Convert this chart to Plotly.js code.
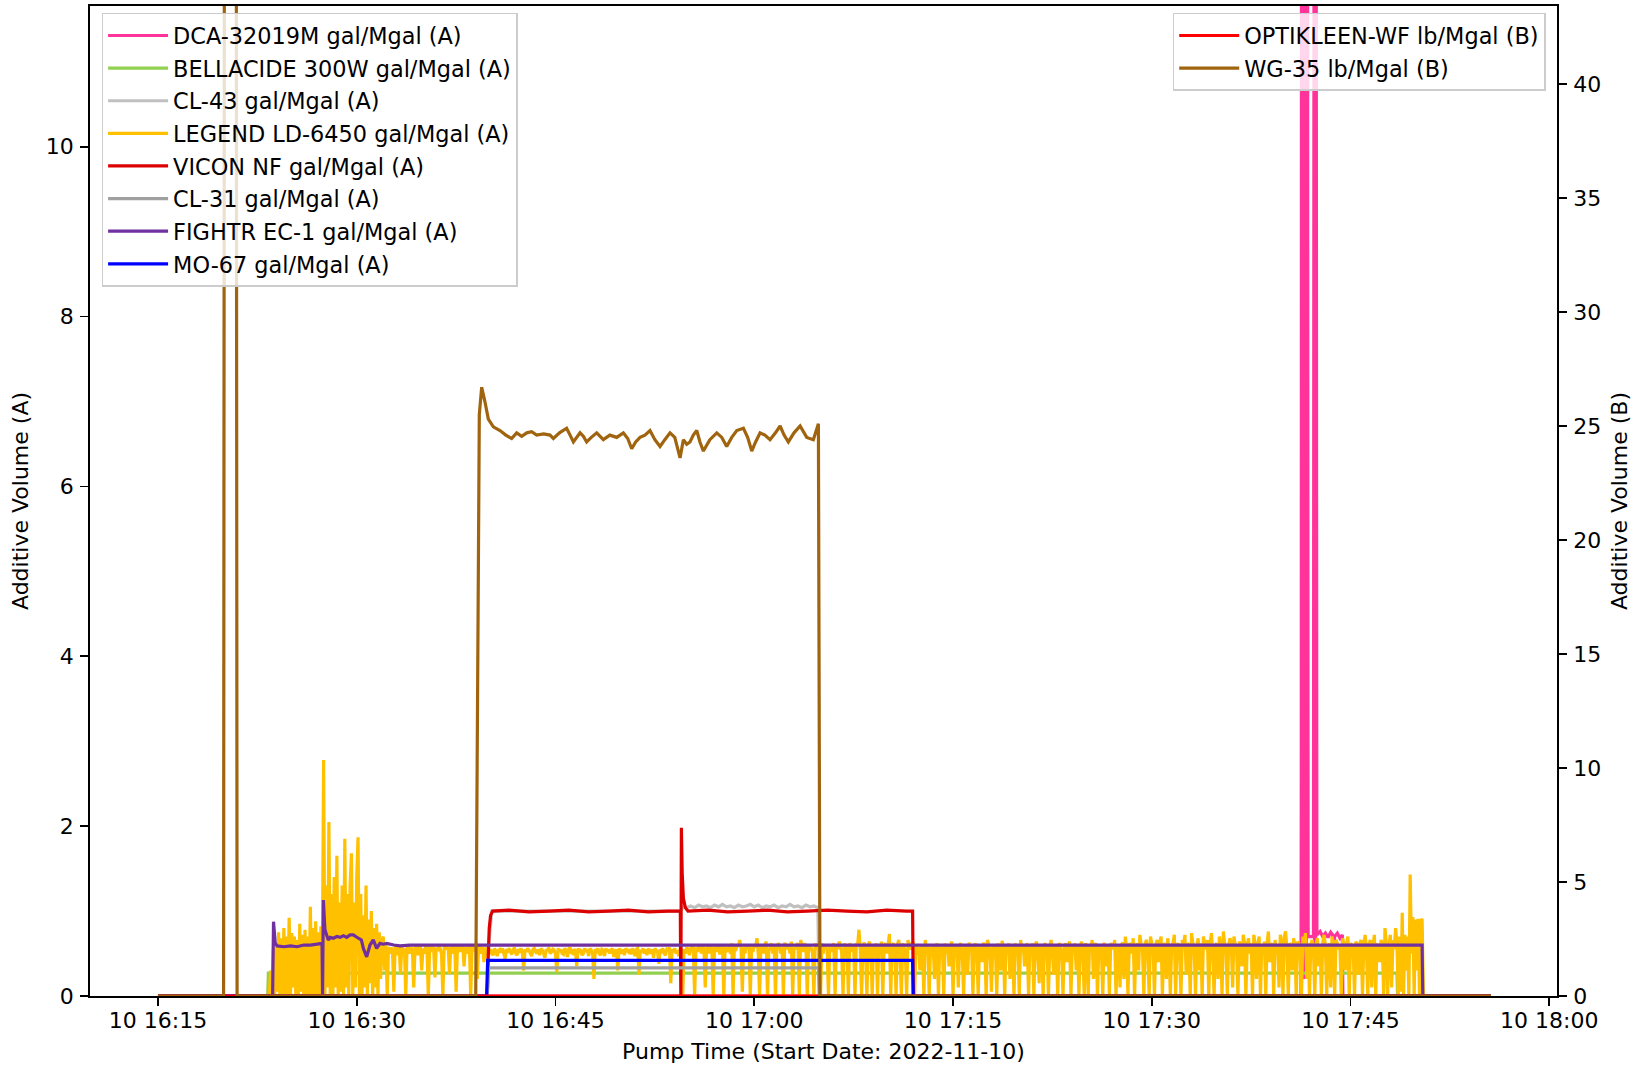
<!DOCTYPE html>
<html><head><meta charset="utf-8">
<script src="https://cdn.plot.ly/plotly-3.0.1.min.js"></script>
<style>html,body{margin:0;padding:0;background:#fff;}#chart{width:1642px;height:1067px;}</style>
</head><body><div id="chart"></div>
<script>
// Time values are minutes after 2022-11-10 16:15:00
const dcaMin = [0, 86.26, 86.28, 86.3, 86.34, 86.38, 86.42, 86.46, 86.5, 86.54, 86.58, 86.62, 86.66, 86.7, 86.75, 86.8,
  87.2, 87.25, 87.29, 87.33, 87.37, 87.4,
  87.46, 87.7, 87.9, 88.1, 88.3, 88.5, 88.65, 88.72, 88.8, 89.0, 89.2, 89.38, 89.42, 100.6];
const dcaVal = [0, 0, 2.2, 15, 0.3, 15, 0.5, 15, 0.2, 15, 0.6, 15, 0.4, 15, 15, 0.7,
  0.7, 15, 0.3, 15, 0.5, 15,
  0.72, 0.76, 0.7, 0.74, 0.69, 0.75, 0.72, 0.32, 0.7, 0.74, 0.68, 0.72, 0, 0];

const bellMin = [0, 8.28, 8.33, 93.5, 93.55, 100.6];
const bellVal = [0, 0, 0.27, 0.27, 0, 0];

const cl43Min = [0, 24.85, 24.95, 25.2, 39.45,
  39.6, 39.9, 40.2, 40.5, 40.8, 41.1, 41.4, 41.7, 42.0, 42.3,
  42.6, 42.9, 43.2, 43.5, 43.8, 44.1, 44.4, 44.7, 45.0, 45.3,
  45.6, 45.9, 46.2, 46.5, 46.8, 47.1, 47.4, 47.7, 48.0, 48.3,
  48.6, 48.9, 49.2, 49.5, 49.8, 49.9, 100.6];
const cl43Val = [0, 0, 0.6, 1.0, 1.0,
  1.05, 1.04, 1.06, 1.04, 1.07, 1.05, 1.06, 1.04, 1.07, 1.05,
  1.08, 1.05, 1.06, 1.04, 1.07, 1.05, 1.06, 1.08, 1.05, 1.07,
  1.04, 1.06, 1.05, 1.07, 1.04, 1.06, 1.05, 1.08, 1.05, 1.06,
  1.04, 1.07, 1.05, 1.06, 1.04, 0, 0];

// LEGEND LD-6450: samples every 6 s starting 16:23:24 (8.4 min)
const legendStartMin = 8.4;
const legendStepMin = 0.1;
const legendA = [ // 8.4 - 12.3
  0.0, 0.3, 0.0, 0.55, 0.0, 0.62, 0.05, 0.75, 0.0, 0.68,
  0.0, 0.8, 0.02, 0.7, 0.0, 0.92, 0.0, 0.74, 0.1, 0.7,
  0.0, 0.66, 0.0, 0.85, 0.05, 0.72, 0.0, 0.78, 0.0, 0.7,
  0.0, 1.05, 0.0, 0.8, 0.02, 0.88, 0.0, 0.75, 0.0, 0.82];
const legendB = [ // 12.4 - 16.9
  0.3, 2.78, 0.0, 1.3, 0.1, 2.05, 0.0, 1.2, 0.0, 1.4,
  0.1, 1.65, 0.0, 1.1, 0.05, 1.3, 0.0, 1.85, 0.1, 1.2,
  0.0, 1.3, 1.68, 0.0, 1.1, 0.1, 1.4, 1.87, 0.0, 1.2,
  0.0, 0.95, 0.1, 1.3, 0.0, 0.9, 0.15, 1.0, 0.0, 0.8,
  0.1, 0.85, 0.0, 0.75, 0.2, 0.65];
const legendC = [ // 17.0 - 24.9
  0.7, 0.3, 0.62, 0.0, 0.58, 0.5, 0.57, 0.52, 0.05, 0.6,
  0.55, 0.48, 0.6, 0.25, 0.59, 0.52, 0.56, 0.0, 0.58, 0.6,
  0.5, 0.57, 0.55, 0.1, 0.56, 0.6, 0.48, 0.57, 0.59, 0.3,
  0.56, 0.5, 0.58, 0.57, 0.0, 0.55, 0.6, 0.52, 0.58, 0.22,
  0.57, 0.53, 0.59, 0.56, 0.49, 0.0, 0.58, 0.6, 0.55, 0.57,
  0.26, 0.6, 0.5, 0.57, 0.58, 0.05, 0.56, 0.6, 0.52, 0.57,
  0.59, 0.35, 0.58, 0.5, 0.56, 0.6, 0.0, 0.57, 0.58, 0.53,
  0.55, 0.2, 0.6, 0.57, 0.5, 0.58, 0.4, 0.55, 0.57, 0.45];
const legendD = [ // 25.0 - 39.4
  0.52, 0.55, 0.5, 0.48, 0.56, 0.53, 0.47, 0.54, 0.55, 0.51,
  0.56, 0.5, 0.44, 0.55, 0.53, 0.56, 0.52, 0.49, 0.54, 0.57,
  0.5, 0.48, 0.55, 0.53, 0.56, 0.51, 0.3, 0.55, 0.52, 0.56,
  0.54, 0.5, 0.47, 0.55, 0.56, 0.52, 0.5, 0.55, 0.48, 0.56,
  0.54, 0.5, 0.45, 0.55, 0.53, 0.57, 0.5, 0.52, 0.55, 0.54,
  0.49, 0.28, 0.56, 0.52, 0.55, 0.5, 0.49, 0.56, 0.54, 0.46,
  0.55, 0.57, 0.51, 0.5, 0.55, 0.53, 0.35, 0.56, 0.53, 0.55,
  0.48, 0.5, 0.56, 0.52, 0.55, 0.47, 0.56, 0.54, 0.5, 0.2,
  0.55, 0.53, 0.56, 0.5, 0.48, 0.55, 0.54, 0.47, 0.56, 0.52,
  0.55, 0.5, 0.54, 0.56, 0.46, 0.52, 0.55, 0.3, 0.56, 0.53,
  0.5, 0.55, 0.48, 0.56, 0.54, 0.52, 0.55, 0.49, 0.56, 0.53,
  0.47, 0.55, 0.56, 0.25, 0.54, 0.52, 0.56, 0.5, 0.55, 0.48,
  0.56, 0.53, 0.5, 0.55, 0.45, 0.56, 0.54, 0.52, 0.38, 0.55,
  0.53, 0.56, 0.5, 0.48, 0.55, 0.54, 0.57, 0.15, 0.55, 0.52,
  0.56, 0.5, 0.54, 0.47, 0.55];
const legendE = [ // 39.5 - 56.9
  0.56, 0.0, 0.55, 0.5, 0.57, 0.55, 0.48, 0.55, 0.6, 0.57,
  0.0, 0.57, 0.52, 0.58, 0.6, 0.5, 0.6, 0.56, 0.1, 0.55,
  0.58, 0.5, 0.6, 0.55, 0.0, 0.58, 0.52, 0.6, 0.57, 0.49,
  0.57, 0.58, 0.0, 0.58, 0.52, 0.56, 0.57, 0.5, 0.62, 0.0,
  0.6, 0.53, 0.6, 0.58, 0.66, 0.57, 0.05, 0.58, 0.5, 0.6,
  0.55, 0.6, 0.0, 0.58, 0.52, 0.6, 0.57, 0.68, 0.5, 0.0,
  0.58, 0.6, 0.5, 0.6, 0.64, 0.0, 0.53, 0.58, 0.62, 0.5,
  0.6, 0.0, 0.55, 0.62, 0.6, 0.5, 0.58, 0.0, 0.63, 0.55,
  0.6, 0.58, 0.5, 0.64, 0.0, 0.57, 0.55, 0.6, 0.62, 0.0,
  0.66, 0.6, 0.52, 0.62, 0.58, 0.0, 0.6, 0.55, 0.57, 0.5,
  0.0, 0.62, 0.55, 0.58, 0.6, 0.0, 0.62, 0.5, 0.6, 0.58,
  0.55, 0.0, 0.6, 0.52, 0.58, 0.62, 0.0, 0.6, 0.55, 0.64,
  0.6, 0.5, 0.0, 0.62, 0.55, 0.6, 0.0, 0.62, 0.58, 0.52,
  0.6, 0.0, 0.62, 0.6, 0.78, 0.55, 0.0, 0.58, 0.63, 0.5,
  0.0, 0.6, 0.64, 0.55, 0.0, 0.6, 0.52, 0.62, 0.0, 0.6,
  0.55, 0.64, 0.0, 0.6, 0.62, 0.5, 0.6, 0.73, 0.0, 0.6,
  0.62, 0.55, 0.0, 0.6, 0.66, 0.52, 0.0, 0.62, 0.58, 0.5,
  0.0, 0.66, 0.58, 0.55, 0.62];
const legendF = [ // 57.0 - 95.4
  0.62, 0.0, 0.6, 0.5, 0.58, 0.3, 0.6, 0.55, 0.0, 0.66,
  0.55, 0.6, 0.0, 0.58, 0.48, 0.6, 0.2, 0.58, 0.62, 0.0,
  0.6, 0.52, 0.58, 0.0, 0.62, 0.5, 0.6, 0.35, 0.57, 0.64,
  0.0, 0.6, 0.55, 0.58, 0.1, 0.6, 0.62, 0.5, 0.0, 0.58,
  0.6, 0.25, 0.63, 0.55, 0.6, 0.0, 0.58, 0.62, 0.5, 0.0,
  0.6, 0.58, 0.4, 0.63, 0.55, 0.0, 0.66, 0.6, 0.52, 0.05,
  0.6, 0.58, 0.57, 0.0, 0.62, 0.5, 0.3, 0.65, 0.58, 0.0,
  0.6, 0.55, 0.62, 0.2, 0.6, 0.58, 0.0, 0.62, 0.5, 0.6,
  0.0, 0.66, 0.55, 0.6, 0.35, 0.58, 0.62, 0.0, 0.6, 0.52,
  0.62, 0.0, 0.6, 0.64, 0.5, 0.15, 0.6, 0.58, 0.0, 0.62,
  0.6, 0.55, 0.0, 0.58, 0.66, 0.5, 0.25, 0.6, 0.58, 0.0,
  0.62, 0.6, 0.5, 0.0, 0.58, 0.62, 0.4, 0.6, 0.64, 0.0,
  0.58, 0.55, 0.62, 0.3, 0.6, 0.0, 0.58, 0.64, 0.5, 0.0,
  0.62, 0.58, 0.0, 0.6, 0.55, 0.66, 0.2, 0.6, 0.62, 0.0,
  0.58, 0.6, 0.52, 0.0, 0.63, 0.35, 0.6, 0.58, 0.0, 0.62,
  0.6, 0.55, 0.66, 0.0, 0.6, 0.58, 0.1, 0.6, 0.63, 0.2,
  0.7, 0.55, 0.0, 0.62, 0.6, 0.5, 0.68, 0.0, 0.58, 0.62,
  0.3, 0.72, 0.6, 0.55, 0.0, 0.62, 0.66, 0.5, 0.0, 0.7,
  0.62, 0.55, 0.0, 0.6, 0.66, 0.4, 0.62, 0.7, 0.0, 0.6,
  0.62, 0.2, 0.68, 0.55, 0.0, 0.6, 0.62, 0.72, 0.0, 0.6,
  0.62, 0.5, 0.0, 0.66, 0.6, 0.72, 0.25, 0.62, 0.6, 0.0,
  0.74, 0.62, 0.55, 0.0, 0.6, 0.68, 0.3, 0.62, 0.0, 0.7,
  0.6, 0.55, 0.66, 0.0, 0.62, 0.74, 0.5, 0.0, 0.6, 0.62,
  0.2, 0.7, 0.6, 0.0, 0.76, 0.62, 0.55, 0.0, 0.6, 0.68,
  0.62, 0.1, 0.7, 0.6, 0.55, 0.0, 0.64, 0.6, 0.35, 0.72,
  0.62, 0.0, 0.6, 0.68, 0.5, 0.62, 0.0, 0.72, 0.6, 0.2,
  0.62, 0.7, 0.0, 0.6, 0.55, 0.64, 0.0, 0.62, 0.76, 0.4,
  0.6, 0.62, 0.0, 0.66, 0.55, 0.6, 0.1, 0.72, 0.62, 0.0,
  0.7, 0.76, 0.55, 0.0, 0.62, 0.6, 0.3, 0.68, 0.6, 0.0,
  0.64, 0.62, 0.5, 0.0, 0.7, 0.6, 0.74, 0.2, 0.62, 0.0,
  0.6, 0.66, 0.55, 0.0, 0.62, 0.68, 0.35, 0.6, 0.0, 0.62,
  0.72, 0.6, 0.0, 0.55, 0.62, 0.1, 0.7, 0.6, 0.0, 0.66,
  0.62, 0.55, 0.6, 0.0, 0.68, 0.62, 0.3, 0.6, 0.7, 0.0,
  0.62, 0.6, 0.55, 0.0, 0.64, 0.6, 0.25, 0.62, 0.66, 0.0,
  0.6, 0.72, 0.55, 0.0, 0.62, 0.66, 0.1, 0.6, 0.72, 0.0,
  0.62, 0.55, 0.4, 0.66, 0.6, 0.0, 0.8, 0.62, 0.0, 0.6,
  0.72, 0.1, 0.66, 0.55, 0.8, 0.62, 0.0, 0.7, 0.05, 0.98,
  0.0, 0.72, 0.3, 0.7, 0.0, 1.43, 0.5, 0.93, 0.0, 0.9,
  0.3, 0.91, 0.0, 0.88, 0.91];
const legendEndMin = [95.5, 100.6];
const legendEndVal = [0, 0];

const viconMin = [0, 24.85, 24.92, 25.0, 25.1, 25.25,
  26.5, 28, 29.5, 31, 32.5, 34, 35.5, 37, 38.5,
  39.42, 39.46, 39.5, 39.56, 39.65, 39.8, 40.0,
  41.5, 43, 44.5, 46, 47.5, 49, 50.5, 52, 53.5, 55, 56.5,
  56.95, 57.0, 100.6];
const viconVal = [0, 0, 0.45, 0.8, 0.95, 1.0,
  1.01, 0.99, 1.0, 1.01, 0.99, 1.0, 1.01, 0.99, 1.0,
  1.0, 0, 1.98, 1.45, 1.15, 1.04, 1.0,
  1.01, 0.99, 1.0, 1.01, 0.99, 1.0, 1.01, 1.0, 0.99, 1.01, 1.0,
  1.0, 0, 0];

const cl31Min = [0, 24.85, 24.95, 49.85, 49.92, 100.6];
const cl31Val = [0, 0, 0.33, 0.33, 0, 0];

const fightrMin = [0, 8.65, 8.72, 8.85, 9.0,
  9.5, 10.0, 10.5, 11.0, 11.5, 12.0,
  12.38, 12.42, 12.48, 12.6, 12.85,
  13.0, 13.23, 13.5, 13.73, 14.0, 14.24, 14.5, 14.74,
  15.12, 15.35, 15.5, 15.75, 16.0, 16.25, 16.5, 16.75,
  17.0, 17.26, 17.8, 18.26, 19.0,
  95.4, 95.45, 100.6];
const fightrVal = [0, 0, 0.875, 0.62, 0.59,
  0.58, 0.59, 0.58, 0.6, 0.6, 0.61,
  0.62, 0.0, 1.13, 0.78, 0.66,
  0.69, 0.68, 0.7, 0.69, 0.71, 0.69, 0.72, 0.72,
  0.68, 0.66, 0.56, 0.46, 0.6, 0.66, 0.56, 0.62,
  0.61, 0.62, 0.6, 0.59, 0.6,
  0.6, 0, 0];

const moMin = [0, 24.8, 24.88, 56.95, 57.0, 100.6];
const moVal = [0, 0, 0.42, 0.42, 0, 0];

const optiMin = [0, 100.6];
const optiVal = [0, 0];

const wgMin = [0, 4.95, 5.02, 5.9, 5.97, 23.98, 24.25, 24.43, 24.68, 24.93,
  25.31, 25.81, 26.25, 26.69, 27.07, 27.45, 27.83, 28.2, 28.58, 29.1,
  29.59, 29.84, 30.3, 30.84, 31.1, 31.35, 31.85, 32.1, 32.35, 32.7,
  33.11, 33.61, 34.1, 34.62, 35.12, 35.45, 35.75, 36.05, 36.38, 36.75,
  37.13, 37.5, 37.89, 38.25, 38.64, 39.0, 39.4, 39.65, 39.9, 40.15,
  40.4, 40.66, 40.9, 41.16, 41.65, 42.17, 42.55, 42.92, 43.3, 43.68,
  44.18, 44.5, 44.81, 45.1, 45.44, 45.8, 46.19, 46.6, 46.95, 47.25,
  47.57, 48.0, 48.46, 48.96, 49.46, 49.84, 49.96, 100.6];
const wgVal = [0, 0, 55, 55, 0, 0, 25.5, 26.7, 26.05, 25.3,
  24.96, 24.8, 24.6, 24.45, 24.7, 24.55, 24.7, 24.75, 24.6, 24.65,
  24.6, 24.45, 24.7, 24.9, 24.6, 24.3, 24.7, 24.55, 24.3, 24.5,
  24.7, 24.4, 24.6, 24.5, 24.7, 24.45, 24.0, 24.3, 24.5, 24.6,
  24.8, 24.4, 24.1, 24.4, 24.7, 24.5, 23.6, 24.4, 24.2, 24.3,
  24.6, 24.8, 24.3, 23.9, 24.4, 24.7, 24.5, 24.1, 24.5, 24.8,
  24.9, 24.5, 23.9, 24.3, 24.7, 24.6, 24.4, 24.7, 25.0, 24.6,
  24.3, 24.7, 25.0, 24.5, 24.4, 25.1, 0, 0];

const xTickFormat = '%d %H:%M';

// ---------- helpers ----------
const BASE = Date.UTC(2022, 10, 10, 16, 15, 0);
function ts(m) {
  return new Date(BASE + Math.round(m * 60000)).toISOString().replace('T', ' ').replace('Z', '');
}
const legendVals = [].concat(legendA, legendB, legendC, legendD, legendE, legendF);
const legendMin = [0].concat(legendVals.map((v, i) => legendStartMin + i * legendStepMin), legendEndMin);
const legendAll = [0].concat(legendVals, legendEndVal);

const FONT = 'DejaVu Sans, sans-serif';
const LW = 3.2;
function tr(name, mins, vals, color, yaxis, legend, grp) {
  return {
    type: 'scatter', mode: 'lines', name: name,
    x: mins.map(ts), y: vals,
    line: {color: color, width: LW, simplify: false},
    yaxis: yaxis, legend: legend, legendgroup: grp,
    hoverinfo: 'skip'
  };
}

const traces = [
  tr('DCA-32019M gal/Mgal (A)', dcaMin, dcaVal, '#ff3399', 'y', 'legend', 'g1'),
  tr('BELLACIDE 300W gal/Mgal (A)', bellMin, bellVal, '#92d050', 'y', 'legend', 'g2'),
  tr('CL-43 gal/Mgal (A)', cl43Min, cl43Val, '#c0c0c0', 'y', 'legend', 'g3'),
  tr('LEGEND LD-6450 gal/Mgal (A)', legendMin, legendAll, '#ffc000', 'y', 'legend', 'g4'),
  tr('VICON NF gal/Mgal (A)', viconMin, viconVal, '#dc0000', 'y', 'legend', 'g5'),
  tr('CL-31 gal/Mgal (A)', cl31Min, cl31Val, '#a0a0a0', 'y', 'legend', 'g6'),
  tr('FIGHTR EC-1 gal/Mgal (A)', fightrMin, fightrVal, '#7030a0', 'y', 'legend', 'g7'),
  tr('MO-67 gal/Mgal (A)', moMin, moVal, '#0000ff', 'y', 'legend', 'g8'),
  tr('OPTIKLEEN-WF lb/Mgal (B)', optiMin, optiVal, '#ff0000', 'y2', 'legend2', 'h1'),
  tr('WG-35 lb/Mgal (B)', wgMin, wgVal, '#a0640f', 'y2', 'legend2', 'h2')
];

const axFont = {family: FONT, size: 22, color: '#000'};
const legFont = {family: FONT, size: 22.4, color: '#000'};
const legStyle = {
  bgcolor: 'rgba(255,255,255,0.8)', bordercolor: '#cccccc', borderwidth: 1.5,
  font: legFont, yanchor: 'top', y: 0.993, tracegroupgap: 0.5, itemwidth: 60,
  traceorder: 'grouped'
};

const layout = {
  width: 1642, height: 1067,
  margin: {l: 90, r: 85, t: 6, b: 71, pad: 0},
  paper_bgcolor: '#fff', plot_bgcolor: '#fff',
  font: axFont,
  showlegend: true,
  xaxis: {
    type: 'date', range: [ts(-5.13), ts(105.58)],
    tick0: '2022-11-10 16:15:00', dtick: 900000, tickformat: xTickFormat,
    ticks: 'outside', ticklen: 8, tickwidth: 1.8, tickcolor: '#000',
    showline: true, linecolor: '#000', linewidth: 1.8, mirror: true,
    showgrid: false, zeroline: false, tickfont: axFont, ticklabelstandoff: -4,
    automargin: false,
    title: {text: 'Pump Time (Start Date: 2022-11-10)', font: axFont, standoff: 11}
  },
  yaxis: {
    range: [0, 11.657], tick0: 0, dtick: 2,
    ticks: 'outside', ticklen: 8, tickwidth: 1.8, tickcolor: '#000',
    showline: true, linecolor: '#000', linewidth: 1.8,
    showgrid: false, zeroline: false, tickfont: axFont, ticklabelstandoff: 2,
    automargin: false,
    title: {text: 'Additive Volume (A)', font: axFont, standoff: 11}
  },
  yaxis2: {
    overlaying: 'y', side: 'right', range: [0, 43.42], tick0: 0, dtick: 5,
    ticks: 'outside', ticklen: 8, tickwidth: 1.8, tickcolor: '#000',
    showline: true, linecolor: '#000', linewidth: 1.8,
    showgrid: false, zeroline: false, tickfont: axFont, ticklabelstandoff: 2,
    automargin: false,
    title: {text: 'Additive Volume (B)', font: axFont, standoff: 11}
  },
  legend: Object.assign({}, legStyle, {x: 0.0079, xanchor: 'left'}),
  legend2: Object.assign({}, legStyle, {x: 0.9923, xanchor: 'right'})
};

Plotly.newPlot('chart', traces, layout, {displayModeBar: false, staticPlot: true});
</script>
</body></html>
